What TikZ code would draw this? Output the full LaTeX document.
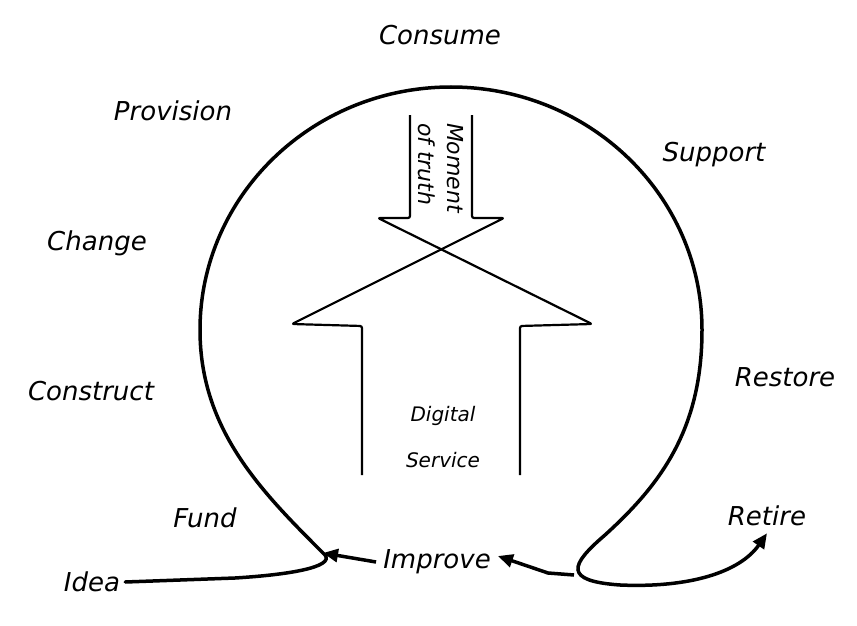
\documentclass[tikz,border=0pt]{standalone}
\usepackage{fontspec}
\setmainfont{DejaVu Sans}
\usepackage{tikz}
\usetikzlibrary{arrows.meta,positioning}
\tikzset{
  stage/.style={font=\itshape\fontsize{26}{30}\selectfont,inner sep=1pt},
  small/.style={font=\itshape\fontsize{20}{24}\selectfont,inner sep=1pt},
  loop/.style={line width=3.5pt,line cap=round,draw=black},
  flow/.style={-{Triangle[length=15pt,width=13pt]},line width=3.5pt,draw=black},
  bigarrow/.style={line width=2.2pt,rounded corners=2pt,line join=round}
}
\begin{document}
\begin{tikzpicture}[x=1pt,y=-1pt]
\useasboundingbox (0,0) rectangle (857,626);
% stages round the loop
\node[stage] (consume) at (440,35) {Consume};
\node[stage] (provision) at (173,111) {Provision};
\node[stage] (support) at (714,155) {Support};
\node[stage] (change) at (97,243) {Change};
\node[stage] (construct) at (91,391) {Construct};
\node[stage] (restore) at (785,377) {Restore};
\node[stage] (fund) at (205,518) {Fund};
\node[stage] (idea) at (92,582) {Idea};
\node[stage] (improve) at (437,562) {Improve};
\node[stage] (retire) at (767,516) {Retire};
\coordinate (lcusp) at (323,553);
\coordinate (rcusp) at (574,575);
% the loop
\draw[loop] ([xshift=4pt]idea.east) -- (235,578) .. controls (300,574) and (338,565) .. (lcusp)
  .. controls (262,492) and (200,430) .. (200,330)
  arc[start angle=180,end angle=360,x radius=251,y radius=243]
  .. controls (702,430) and (660,485) .. (605,535)
  .. controls (570,565) and (563,581) .. (620,585);
\draw[flow] (620,585) .. controls (690,588) and (740,572) .. ([yshift=-6pt]retire.south);
% improve arrows
\draw[flow] ([xshift=-6pt]improve.west) -- (lcusp);
\draw[flow] (rcusp) -- (548,573) -- ([xshift=6pt,yshift=6pt]improve.east);
% moment of truth meets digital service
\draw[bigarrow] (410,115) -- (410,218) -- (378,218) -- (592,324) -- (520,326) -- (520,475);
\draw[bigarrow] (472,115) -- (472,218) -- (504,218) -- (292,324) -- (362,326) -- (362,475);
\node[small,rotate=-90,align=left,font=\itshape\fontsize{22}{29}\selectfont] (truth) at (441,168) {Moment\\of truth};
\node[small] (digital) at (443,416) {Digital};
\node[small] (service) at (443,460) {Service};
\end{tikzpicture}
\end{document}
